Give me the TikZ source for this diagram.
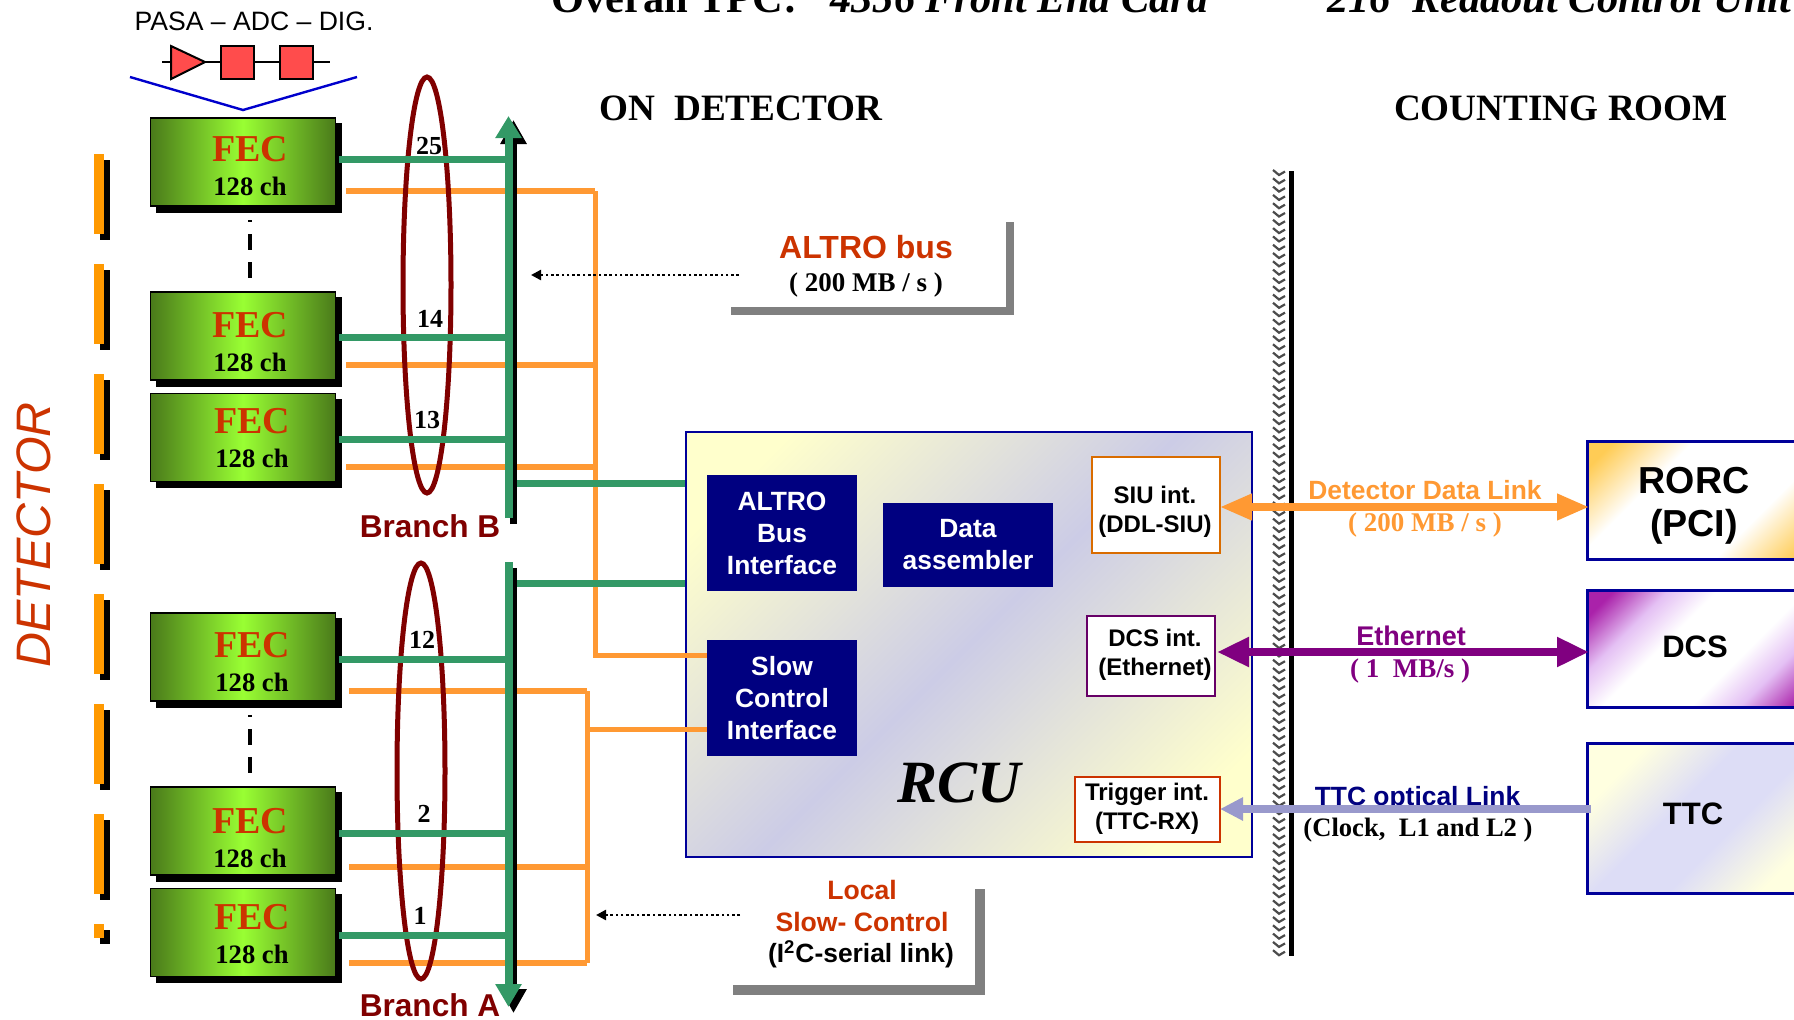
\documentclass[tikz,border=0pt]{standalone}
\usepackage{amsmath, amssymb, fontspec}
\setmainfont{Liberation Serif}
\setsansfont{Liberation Sans}
\usetikzlibrary{arrows.meta,shadows}

\definecolor{fecdark}{HTML}{4A7A1A}
\definecolor{fecbright}{HTML}{99FF33}
\definecolor{stripor}{HTML}{FF9900}
\definecolor{lineor}{HTML}{FF9933}
\definecolor{busgreen}{HTML}{339966}
\definecolor{loopred}{HTML}{800000}
\definecolor{rednote}{HTML}{CC3300}
\definecolor{boxnavy}{HTML}{000080}
\definecolor{edgenavy}{HTML}{000099}
\definecolor{linkpurple}{HTML}{800080}
\definecolor{linklav}{HTML}{9999CC}
\definecolor{rcuyel}{HTML}{FFFFCC}
\definecolor{rculav}{HTML}{CCCCE6}
\definecolor{rorcgold}{HTML}{FFCC55}
\definecolor{dcsmag}{HTML}{AA22AA}
\definecolor{dcslil}{HTML}{E4C0F4}
\definecolor{ttcyel}{HTML}{FFFFE0}
\definecolor{ttclav}{HTML}{DDDDF6}

\pgfdeclareverticalshading{rcufade}{100bp}{color(0bp)=(rcuyel); color(22bp)=(rcuyel); color(50bp)=(rculav); color(78bp)=(rcuyel); color(100bp)=(rcuyel)}
\pgfdeclareverticalshading{rorcfade}{100bp}{color(0bp)=(rorcgold); color(20bp)=(rorcgold); color(36bp)=(white); color(64bp)=(white); color(80bp)=(rorcgold); color(100bp)=(rorcgold)}
\pgfdeclareverticalshading{dcsfade}{100bp}{color(0bp)=(dcsmag); color(20bp)=(dcsmag); color(31bp)=(dcslil); color(41bp)=(white); color(59bp)=(white); color(69bp)=(dcslil); color(80bp)=(dcsmag); color(100bp)=(dcsmag)}
\pgfdeclareverticalshading{ttcfade}{100bp}{color(0bp)=(ttcyel); color(26bp)=(ttcyel); color(43bp)=(ttclav); color(57bp)=(ttclav); color(74bp)=(ttcyel); color(100bp)=(ttcyel)}

\tikzset{
  fecbox/.style={draw=black,line width=0.6pt,minimum width=92.5pt,minimum height=44pt,inner sep=0pt,
    left color=fecdark,right color=fecdark,middle color=fecbright,
    copy shadow={shadow xshift=3pt,shadow yshift=-3pt,fill=black,draw=black}},
  fectext/.style={align=center,inner sep=0pt},
  stripbox/.style={fill=stripor,minimum width=5pt,minimum height=40pt,inner sep=0pt,
    copy shadow={shadow xshift=3pt,shadow yshift=-3pt,fill=black,draw=none}},
  numlabel/.style={font=\bfseries\fontsize{13}{13}\selectfont,inner sep=0pt},
  branchlabel/.style={font=\sffamily\bfseries\fontsize{15.8}{16}\selectfont,text=loopred,inner sep=0pt},
  headlabel/.style={font=\bfseries\fontsize{18.6}{19}\selectfont,inner sep=0pt},
  titlelabel/.style={font=\bfseries\fontsize{21.2}{21}\selectfont,inner sep=0pt,anchor=base west},
  navybox/.style={fill=boxnavy,text=white,align=center,inner sep=0pt,
    font=\sffamily\bfseries\fontsize{13.2}{16}\selectfont},
  intbox/.style={fill=white,line width=0.8pt,inner sep=0pt,outer sep=0pt,align=center},
  inttext/.style={font=\sffamily\bfseries\fontsize{12}{14.5}\selectfont,align=center,inner sep=0pt},
  ctrlbox/.style={draw=edgenavy,line width=1.5pt,inner sep=0pt,outer sep=0pt},
  ctrltext/.style={font=\sffamily\bfseries\fontsize{15.5}{21.5}\selectfont,align=center,inner sep=0pt},
  greenline/.style={draw=busgreen,line width=3.5pt},
  orangeline/.style={draw=lineor,line width=3pt},
  orangestem/.style={draw=lineor,line width=2.5pt},
  loopring/.style={draw=loopred,line width=2.5pt},
  greyedge/.style={draw=black!50,line width=4pt},
  notearrow/.style={-{Triangle[length=5pt,width=5pt]},dash pattern=on 1.3pt off 1.35pt,line width=1.2pt},
  linklabel/.style={font=\sffamily\bfseries\fontsize{13.2}{14}\selectfont,inner sep=0pt},
  ratelabel/.style={font=\bfseries\fontsize{13.5}{14}\selectfont,inner sep=0pt},
}

\begin{document}
\begin{tikzpicture}[x=0.5pt,y=-0.5pt]
  \useasboundingbox (0,0) rectangle (1794,1019);
  \clip (0,0) rectangle (1794,1019);

  % heading
  \node[titlelabel] (titlea) at (551,12) {Overall TPC:};
  \node[titlelabel] (titleb) at (830,12) {\itshape 4356 Front End Card};
  \node[titlelabel] (titlec) at (1327,12) {\itshape 216\ \ Readout Control Unit};
  \node[headlabel] (ondet) at (741,108) {ON\ \ DETECTOR};
  \node[headlabel] (countroom) at (1561,108) {COUNTING ROOM};

  % detector strips
  \node[font=\sffamily\itshape\fontsize{24.2}{24}\selectfont,text=rednote,rotate=90,inner sep=0pt] (detector) at (34,535) {DETECTOR};
  \node[stripbox] (stripa) at (99,194) {};
  \node[stripbox] (stripb) at (99,304) {};
  \node[stripbox] (stripc) at (99,414) {};
  \node[stripbox] (stripd) at (99,524) {};
  \node[stripbox] (stripe) at (99,634) {};
  \node[stripbox] (stripf) at (99,744) {};
  \node[stripbox] (stripg) at (99,854) {};
  \node[stripbox,minimum height=7pt] (striph) at (99,931) {};

  % front end chain
  \node[font=\sffamily\fontsize{13.3}{14}\selectfont,inner sep=0pt] (chainlabel) at (254,21) {PASA -- ADC -- DIG.};
  \coordinate (chainl) at (162,62);
  \coordinate (chainr) at (330,62);
  \draw[line width=1pt] (chainl) -- (chainr);
  \draw[fill=red!70!white,line width=1pt] (171,46) -- (205,62) -- (171,79) -- cycle;
  \node[draw,fill=red!70!white,line width=1pt,minimum width=16.5pt,minimum height=16.5pt,inner sep=0pt] (adc) at (237.5,62.5) {};
  \node[draw,fill=red!70!white,line width=1pt,minimum width=16.5pt,minimum height=16.5pt,inner sep=0pt] (dig) at (296,62.5) {};
  \draw[blue!80!black,line width=1.2pt] (130,77) -- (243,110) -- (357,77);

  % wires, behind the loops and the bus
  \coordinate (orupA) at (595,191);
  \coordinate (orupB) at (595,655);
  \coordinate (orlowA) at (587,691);
  \coordinate (orlowB) at (587,963);
  \coordinate (orlowC) at (587,729);
  \draw[orangeline] (346,191) -- (orupA);
  \draw[orangeline] (346,365) -- (595,365);
  \draw[orangeline] (346,467) -- (595,467);
  \draw[orangeline] (349,691) -- (orlowA);
  \draw[orangeline] (349,867) -- (587,867);
  \draw[orangeline] (349,963) -- (orlowB);

  % RCU
  \node[draw=edgenavy,line width=1.2pt,shading=rcufade,shading angle=45,minimum width=283pt,minimum height=212.5pt,inner sep=0pt] (rcu) at (969,644.5) {};
  \node[font=\bfseries\itshape\fontsize{30}{30}\selectfont,inner sep=0pt] (rcutext) at (959,783) {RCU};
  \node[navybox,minimum width=75pt,minimum height=58pt] (altro) at (782,533) {ALTRO\\Bus\\Interface};
  \node[navybox,minimum width=75pt,minimum height=58pt] (slowctrl) at (782,698) {\raisebox{-1.5pt}{Slow}\\\raisebox{-1.5pt}{Control}\\\raisebox{-1.5pt}{Interface}};
  \node[navybox,minimum width=85pt,minimum height=42pt] (assembler) at (968,545) {\raisebox{-2pt}{Data}\\\raisebox{-2pt}{assembler}};
  \node[intbox,draw=orange!85!black,minimum width=64pt,minimum height=48pt] (siu) at (1156,505) {};
  \node[inttext] (siutext) at (1155,511.5) {SIU int.\\(DDL-SIU)};
  \node[intbox,draw=linkpurple!120,minimum width=64pt,minimum height=40pt] (dcsint) at (1151,656) {};
  \node[inttext] (dcstext) at (1155,654.5) {DCS int.\\(Ethernet)};
  \node[intbox,draw=rednote,minimum width=72.5pt,minimum height=32.5pt] (trigint) at (1147.5,809.5) {};
  \node[inttext] (trigtext) at (1147,808.5) {Trigger int.\\(TTC-RX)};

  \draw[orangestem] (orupA) -- (orupB) -- (orupB -| slowctrl.west);
  \draw[orangestem] (orlowA) -- (orlowB);
  \draw[orangestem] (orlowC) -- (orlowC -| slowctrl.west);

  % FEC cards
  \node[fecbox] (fec25) at (243,162) {};
  \node[fecbox] (fec14) at (243,336) {};
  \node[fecbox] (fec13) at (243,437.5) {};
  \node[fecbox] (fec12) at (243,657) {};
  \node[fecbox] (fec2) at (243,831) {};
  \node[fecbox] (fec1) at (243,932.5) {};
  \node[fectext] (fec25t) at (250,166) {{\color{rednote}\bfseries\fontsize{19}{19}\selectfont FEC}\\[5pt]{\bfseries\fontsize{13.3}{14}\selectfont 128 ch}};
  \node[fectext] (fec14t) at (250,342) {{\color{rednote}\bfseries\fontsize{19}{19}\selectfont FEC}\\[5pt]{\bfseries\fontsize{13.3}{14}\selectfont 128 ch}};
  \node[fectext] (fec13t) at (252,438) {{\color{rednote}\bfseries\fontsize{19}{19}\selectfont FEC}\\[5pt]{\bfseries\fontsize{13.3}{14}\selectfont 128 ch}};
  \node[fectext] (fec12t) at (252,662) {{\color{rednote}\bfseries\fontsize{19}{19}\selectfont FEC}\\[5pt]{\bfseries\fontsize{13.3}{14}\selectfont 128 ch}};
  \node[fectext] (fec2t) at (250,838) {{\color{rednote}\bfseries\fontsize{19}{19}\selectfont FEC}\\[5pt]{\bfseries\fontsize{13.3}{14}\selectfont 128 ch}};
  \node[fectext] (fec1t) at (252,934) {{\color{rednote}\bfseries\fontsize{19}{19}\selectfont FEC}\\[5pt]{\bfseries\fontsize{13.3}{14}\selectfont 128 ch}};
  \coordinate (gapa) at (250,220);
  \coordinate (gapb) at (250,278);
  \coordinate (gapc) at (250,715);
  \coordinate (gapd) at (250,773);
  \draw[line width=2pt,dash pattern=on 1pt off 6pt on 8pt off 6pt on 8pt] (gapa) -- (gapb);
  \draw[line width=2pt,dash pattern=on 1pt off 6pt on 8pt off 6pt on 8pt] (gapc) -- (gapd);

  % branch loops
  \draw[loopring] (427,285) ellipse (24 and 208);
  \draw[loopring] (421,771) ellipse (24 and 208);
  \node[numlabel] (numa) at (429,146) {25};
  \node[numlabel] (numb) at (430,319) {14};
  \node[numlabel] (numc) at (427,420) {13};
  \node[numlabel] (numd) at (422,640) {12};
  \node[numlabel] (nume) at (424,814) {2};
  \node[numlabel] (numf) at (420,916) {1};
  \node[branchlabel] (brb) at (430,526) {Branch B};
  \node[branchlabel] (bra) at (430,1005) {Branch A};

  % readout bus
  \coordinate (busbtop) at (508.5,116);
  \coordinate (busbend) at (508.5,518);
  \coordinate (busatop) at (508.5,562);
  \coordinate (busaend) at (508.5,1007);
  \draw[line width=3.5pt,-{Triangle[length=12pt,width=12.5pt]}] ([xshift=2.5pt,yshift=-3pt]busbend) -- ([xshift=2.5pt,yshift=-2pt]busbtop);
  \draw[line width=3.5pt,-{Triangle[length=12pt,width=12.5pt]}] ([xshift=2.5pt,yshift=-3pt]busatop) -- ([xshift=2.5pt,yshift=-3pt]busaend);
  \draw[draw=busgreen,line width=4pt,-{Triangle[length=11pt,width=12.5pt]}] (busbend) -- (busbtop);
  \draw[draw=busgreen,line width=4pt,-{Triangle[length=11.5pt,width=12.5pt]}] (busatop) -- (busaend);
  \draw[greenline] (fec25.east |- 0,159) ++(3,0) -- (505,159);
  \draw[greenline] (fec14.east |- 0,337) ++(3,0) -- (505,337);
  \draw[greenline] (fec13.east |- 0,439) ++(3,0) -- (505,439);
  \draw[greenline] (fec12.east |- 0,659) ++(3,0) -- (505,659);
  \draw[greenline] (fec2.east |- 0,833) ++(3,0) -- (505,833);
  \draw[greenline] (fec1.east |- 0,935) ++(3,0) -- (505,935);
  \draw[greenline] (517,483) -- (rcu.west |- 0,483);
  \draw[greenline] (517,583) -- (rcu.west |- 0,583);

  % notes with grey corners
  \node[font=\sffamily\bfseries\fontsize{16}{16}\selectfont,text=rednote,inner sep=0pt] (altrobus) at (866,247) {ALTRO bus};
  \node[ratelabel] (altrorate) at (866,285) {( 200 MB / s )};
  \coordinate (altroa) at (1010,222);
  \coordinate (altrob) at (1010,311);
  \coordinate (altroc) at (731,311);
  \draw[greyedge] (altroa) -- (altrob) -- (altroc);
  \coordinate (altrofrom) at (739,275);
  \coordinate (altroto) at (531,275);
  \draw[notearrow] (altrofrom) -- (altroto);
  \node[font=\sffamily\bfseries\fontsize{13.3}{16}\selectfont,text=rednote,align=center,inner sep=0pt] (localnote) at (862,906) {Local\\Slow- Control};
  \node[font=\sffamily\bfseries\fontsize{13.2}{16}\selectfont,inner sep=0pt] (i2cnote) at (861,954) {(I\textsuperscript{2}C-serial link)};
  \coordinate (locala) at (980,889);
  \coordinate (localb) at (980,990);
  \coordinate (localc) at (733,990);
  \draw[greyedge,line width=5pt] (locala) -- (localb) -- (localc);
  \coordinate (localfrom) at (740,915);
  \coordinate (localto) at (596,915);
  \draw[notearrow] (localfrom) -- (localto);

  % wall between the two areas
  \foreach \wally in {170,178.3,...,952}
    \draw[black!70,line width=1.1pt] (1273,\wally) -- (1279,\wally+5) -- (1285,\wally+1.5);
  \draw[line width=2.5pt] (1291.5,171) -- (1291.5,956);

  % counting room boxes
  \node[ctrlbox,shading=rorcfade,shading angle=45,minimum width=117pt,minimum height=59pt] (rorc) at (1704,500) {};
  \node[ctrlbox,shading=dcsfade,shading angle=45,minimum width=117pt,minimum height=58.5pt] (dcs) at (1704,648.5) {};
  \node[ctrlbox,shading=ttcfade,shading angle=45,minimum width=117pt,minimum height=75pt] (ttc) at (1704,818) {};
  \node[ctrltext,font=\sffamily\bfseries\fontsize{18.8}{21.5}\selectfont] (rorctext) at (1694,506) {RORC\\(PCI)};
  \node[ctrltext] (dcstextb) at (1695,647) {DCS};
  \node[ctrltext] (ttctext) at (1693,814) {TTC};

  % links
  \node[linklabel,text=lineor] (ddltext) at (1425,490) {Detector Data Link};
  \node[ratelabel,text=lineor] (ddlrate) at (1425,525) {( 200 MB / s )};
  \node[linklabel,text=linkpurple,font=\sffamily\bfseries\fontsize{13.5}{14}\selectfont] (ethtext) at (1411,635.5) {Ethernet};
  \node[ratelabel,text=linkpurple] (ethrate) at (1410,670.5) {( 1\ \ MB/s )};
  \node[linklabel,text=boxnavy,anchor=base,font=\sffamily\bfseries\fontsize{13.2}{14}\selectfont] (ttclink) at (1417.5,805) {TTC optical Link};
  \node[ratelabel,font=\bfseries\fontsize{13.3}{14}\selectfont] (ttcrate) at (1418,830.5) {(Clock,\ \ L1 and L2 )};
  \draw[draw=lineor,line width=3.6pt,{Triangle[length=16pt,width=12.5pt]}-{Triangle[length=16pt,width=12.5pt]}] (siu.east |- 0,507) -- ([xshift=1pt]rorc.west |- 0,507);
  \draw[draw=linkpurple,line width=4pt,{Triangle[length=16pt,width=14pt]}-{Triangle[length=16pt,width=14pt]}] (dcsint.east |- 0,652) ++(2,0) -- ([xshift=1pt]dcs.west |- 0,652);
  \draw[draw=linklav,line width=4pt,-{Triangle[length=11.5pt,width=11pt]}] (ttc.west |- 0,809) ++(4,0) -- (trigint.east |- 0,809);
\end{tikzpicture}
\end{document}
